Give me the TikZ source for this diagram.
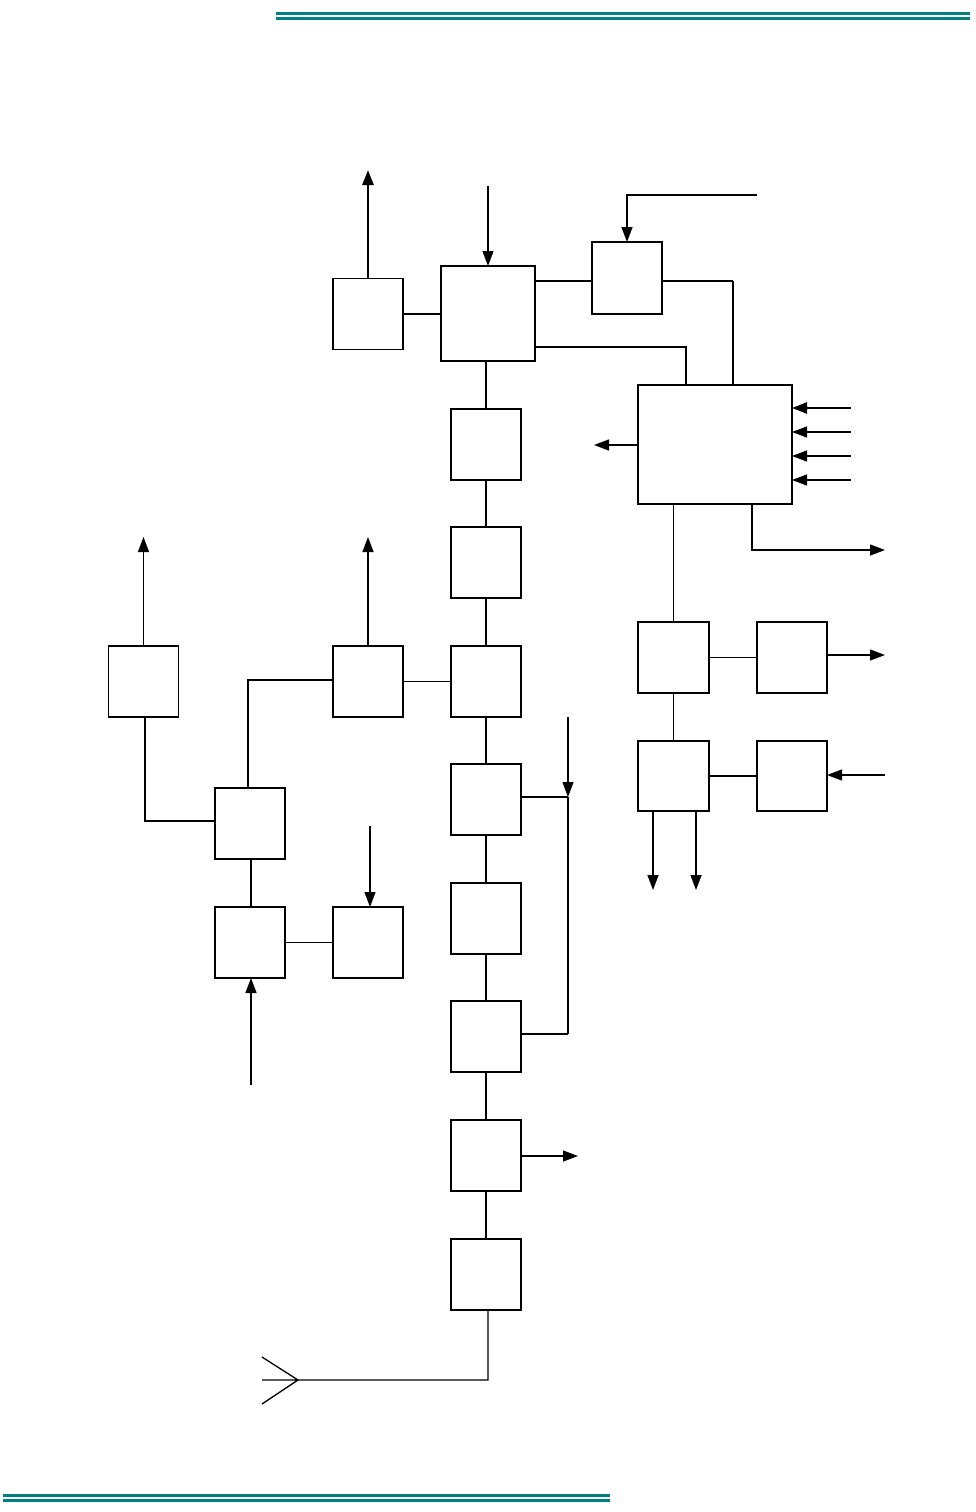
\documentclass[tikz,border=0pt]{standalone}
\usetikzlibrary{positioning}
\usetikzlibrary{calc}
\usetikzlibrary{arrows.meta}
\definecolor{headteal}{RGB}{0,128,128}

\begin{document}
\begin{tikzpicture}
	[x=1pt,y=-1pt,
	block/.style={rectangle,draw=black,line width=1.3pt,minimum width=70pt,minimum height=71pt,inner sep=0pt,outer sep=0pt},
	link/.style={draw=black,line width=1.3pt},
	heavy/.style={draw=black,line width=2.6pt},
	signal/.style={-{Triangle[length=15pt,width=11pt]}},
	rule/.style={draw=headteal,line width=2.7pt}]

	\useasboundingbox (0,0) rectangle (975,1512);

	% Draw the page rules
	\draw[rule] (276,13.3) -- (970,13.3)
	            (276,18.3) -- (970,18.3)
	            (3,1495.3) -- (610,1495.3)
	            (3,1500.3) -- (610,1500.3);

	% Draw the upper blocks
	\draw node at (368,314) [block](outA){}
		node at (488,313.5) [block,minimum width=94pt,minimum height=95pt](ctrl){}
		node at (627,278) [block,line width=2.2pt,minimum height=72pt](synth){}
		node at (715,444.5) [block,line width=2.2pt,minimum width=154pt,minimum height=119pt](proc){}
		node at (673.5,657.5) [block,minimum width=71pt](rA){}
		node at (792,657.5) [block](rB){}
		node at (673.5,776) [block,minimum width=71pt,minimum height=70pt](rC){}
		node at (792,776) [block,minimum height=70pt](rD){};

	% Draw the middle chain
	\draw node at (486,444.5) [block](m1){}
		node at (486,562.5) [block](m2){}
		node at (486,681.5) [block](m3){}
		node at (486,799.5) [block](m4){}
		node at (486,918.5) [block](m5){}
		node at (486,1036.5) [block](m6){}
		node at (486,1155.5) [block](m7){}
		node at (486,1274.5) [block](m8){};

	% Draw the left blocks
	\draw node at (143.5,681.5) [block](lA){}
		node at (368,681.5) [block](lB){}
		node at (250,823.5) [block](lC){}
		node at (250,942.5) [block](lD){}
		node at (368,942.5) [block](lE){};

	% Free ends of the signals
	\coordinate (topA) at (368,170);
	\coordinate (topCtrl) at (488,186);
	\coordinate (topSynth) at (757,195);
	\coordinate (inP1) at (851,408);
	\coordinate (inP2) at (851,432);
	\coordinate (inP3) at (851,456);
	\coordinate (inP4) at (851,480);
	\coordinate (outP) at (594,445);
	\coordinate (outQ) at (885,550);
	\coordinate (outRB) at (885,655);
	\coordinate (inRD) at (885,775);
	\coordinate (outC1) at (653,890);
	\coordinate (outC2) at (696,890);
	\coordinate (inLoop) at (568,717);
	\coordinate (outM7) at (578,1156);
	\coordinate (antenna) at (298,1380);
	\coordinate (upLA) at (144,537);
	\coordinate (upLB) at (368,537);
	\coordinate (inLD) at (251,1085);
	\coordinate (inLE) at (370,826);

	% Draw the links between the upper blocks
	\draw[link] (outA.east) -- (outA.east -| ctrl.west)
	            (m1.north |- ctrl.south) -- (m1.north)
	            ($(ctrl.east)+(0,33.5)$) -| ($(proc.north)+(-29,0)$)
	            (proc.south -| rA.north) -- (rA.north)
	            (rA.east) -- (rA.east -| rB.west)
	            (rA.south) -- (rC.north)
	            (rC.east) -- (rC.east -| rD.west);
	\draw[heavy] ($(ctrl.east)+(0,-32.5)$) -- ($(synth.west)+(0,3)$);
	\draw[heavy] ($(synth.east)+(0,3)$) -- ++(71,0);
	\draw[link] ($(synth.east)+(71,3)$) -- ($(proc.north)+(18,0)$);

	% Draw the signals of the upper blocks
	\draw[heavy,signal] (outA.north) -- (topA);
	\draw[link,signal] (topCtrl) -- (ctrl.north);
	\draw[link,signal] (topSynth) -| (synth.north);
	\draw[heavy,signal] (inP1) -- (inP1 -| proc.east);
	\draw[link,signal] (inP2) -- (inP2 -| proc.east);
	\draw[link,signal] (inP3) -- (inP3 -| proc.east);
	\draw[link,signal] (inP4) -- (inP4 -| proc.east);
	\draw[link,signal] (outP -| proc.west) -- (outP);
	\draw[link,signal] ($(proc.south)+(37,0)$) |- (outQ);
	\draw[link,signal] (outRB -| rB.east) -- (outRB);
	\draw[link,signal] (inRD) -- (inRD -| rD.east);
	\draw[link,signal] (outC1 |- rC.south) -- (outC1);
	\draw[link,signal] (outC2 |- rC.south) -- (outC2);

	% Draw the middle chain links
	\draw[link] (m1) -- (m2)
	            (m2) -- (m3)
	            (m3) -- (m4)
	            (m4) -- (m5)
	            (m5) -- (m6)
	            (m6) -- (m7)
	            (m7) -- (m8);
	\draw[heavy] (m4.east |- 0,797) -- (568,797);
	\draw[link] (568,797) -- (568,1034);
	\draw[heavy] (568,1034) -- (m6.east |- 0,1034);
	\draw[link,signal] (inLoop) -- (568,797);
	\draw[link,signal] (outM7 -| m7.east) -- (outM7);
	\draw[link] ($(m8.south)+(2,0)$) |- (antenna)
	            (antenna) -- (262,1357)
	            (antenna) -- (262,1380)
	            (antenna) -- (262,1404);

	% Draw the links between the left blocks
	\draw[link] (lB.east) -- (lB.east -| m3.west)
	            ($(lC.west)+(0,-2.5)$) -| ($(lA.south)+(1.5,0)$)
	            ($(lC.north)+(-2,0)$) |- ($(lB.west)+(0,-1.5)$)
	            ($(lC.south)+(1,0)$) -- ($(lD.north)+(1,0)$)
	            (lD.east) -- (lE.west);
	\draw[link,signal] (lA.north) -- (lA.north |- upLA);
	\draw[link,signal] (lB.north) -- (upLB);
	\draw[link,signal] (inLD) -- (inLD |- lD.south);
	\draw[link,signal] (inLE) -- (inLE |- lE.north);
\end{tikzpicture}
\end{document}
